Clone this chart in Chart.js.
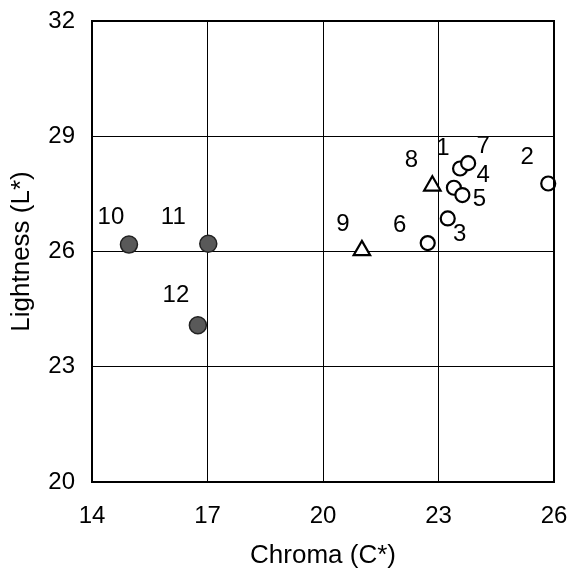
<!DOCTYPE html>
<html>
<head>
<meta charset="utf-8">
<script src="https://cdn.jsdelivr.net/npm/chart.js@4"></script>
<style>
    html, body { margin: 0; padding: 0; background: #fff; }
    #wrap { width: 570px; height: 573px; }
</style>
</head>
<body>
<div id="wrap"><canvas id="chart" width="570" height="573"></canvas></div>
<script>
// Sample values
const sampleIds = ['1', '2', '3', '4', '5', '6', '7', '8', '9', '10', '11', '12'];
const chromaValues = [23.40, 25.85, 23.24, 23.56, 23.62, 22.72, 23.77, 22.84, 21.01, 14.96, 17.02, 16.75];
const lightnessValues = [27.66, 27.77, 26.86, 28.16, 27.47, 26.22, 28.30, 27.71, 26.03, 26.18, 26.20, 24.08];
const sampleGroups = ['open', 'open', 'open', 'open', 'open', 'open', 'open',
    'triangle', 'triangle', 'filled', 'filled', 'filled'];

const xTicks = [14, 17, 20, 23, 26];
const yTicks = [20, 23, 26, 29, 32];

// where each number label sits relative to its marker (px)
const labelOffsets = [[-11, -39], [-21, -26], [12, 16], [23, 7], [17, 4], [-28, -18],
    [15, -17], [-21, -25], [-19, -26], [-18, -27], [-35, -26], [-22, -30]];

const FONT = "'Liberation Sans', Arial, sans-serif";

function groupPoints(group) {
    const pts = [];
    sampleIds.forEach((id, i) => {
        if (sampleGroups[i] === group) {
            pts.push({ x: chromaValues[i], y: lightnessValues[i], id: id, idx: i });
        }
    });
    return pts;
}

const frameAndLabels = {
    id: 'frameAndLabels',
    afterDatasetsDraw(chart) {
        const ctx = chart.ctx;
        const area = chart.chartArea;
        ctx.save();
        ctx.strokeStyle = '#000';
        ctx.lineWidth = 2;
        ctx.strokeRect(area.left, area.top, area.right - area.left, area.bottom - area.top);

        ctx.fillStyle = '#000';
        ctx.font = '24px ' + FONT;
        ctx.textAlign = 'center';
        ctx.textBaseline = 'middle';
        chart.data.datasets.forEach((ds, di) => {
            const meta = chart.getDatasetMeta(di);
            meta.data.forEach((el, j) => {
                const p = ds.data[j];
                const off = labelOffsets[p.idx];
                ctx.fillText(p.id, el.x + off[0], el.y + off[1]);
            });
        });
        ctx.restore();
    }
};

new Chart(document.getElementById('chart').getContext('2d'), {
    type: 'scatter',
    data: {
        datasets: [
            {
                label: 'open',
                data: groupPoints('open'),
                pointStyle: 'circle',
                pointRadius: 7,
                borderWidth: 2.2,
                borderColor: '#000',
                backgroundColor: '#fff'
            },
            {
                label: 'triangle',
                data: groupPoints('triangle'),
                pointStyle: 'triangle',
                pointRadius: 9.5,
                borderWidth: 2.2,
                borderColor: '#000',
                backgroundColor: '#fff'
            },
            {
                label: 'filled',
                data: groupPoints('filled'),
                pointStyle: 'circle',
                pointRadius: 8.5,
                borderWidth: 1.5,
                borderColor: '#222',
                backgroundColor: '#595959'
            }
        ]
    },
    options: {
        responsive: false,
        animation: false,
        clip: false,
        layout: { padding: { left: 0, top: 21, right: 16, bottom: 0 } },
        plugins: {
            legend: { display: false },
            tooltip: { enabled: false }
        },
        scales: {
            x: {
                type: 'linear',
                min: 14,
                max: 26,
                afterFit: function(scale) {
                    scale.height = 91;
                    scale.paddingLeft = 0;
                    scale.paddingRight = 0;
                },
                afterBuildTicks: function(scale) { scale.ticks = xTicks.map(v => ({ value: v })); },
                grid: { color: '#000', lineWidth: 1, drawTicks: false },
                border: { display: false },
                ticks: {
                    padding: 20,
                    color: '#000',
                    font: { family: FONT, size: 24 }
                },
                title: {
                    display: true,
                    text: 'Chroma (C*)',
                    color: '#000',
                    font: { family: FONT, size: 26 },
                    padding: { top: 0, bottom: 2 }
                }
            },
            y: {
                type: 'linear',
                min: 20,
                max: 32,
                afterFit: function(scale) {
                    scale.width = 92;
                    scale.paddingTop = 0;
                    scale.paddingBottom = 0;
                },
                afterBuildTicks: function(scale) { scale.ticks = yTicks.map(v => ({ value: v })); },
                grid: { color: '#000', lineWidth: 1, drawTicks: false },
                border: { display: false },
                ticks: {
                    padding: 17,
                    color: '#000',
                    font: { family: FONT, size: 24 }
                },
                title: {
                    display: true,
                    text: 'Lightness (L*)',
                    color: '#000',
                    font: { family: FONT, size: 26 },
                    padding: { top: 6, bottom: 0 }
                }
            }
        }
    },
    plugins: [frameAndLabels]
});
</script>
</body>
</html>
